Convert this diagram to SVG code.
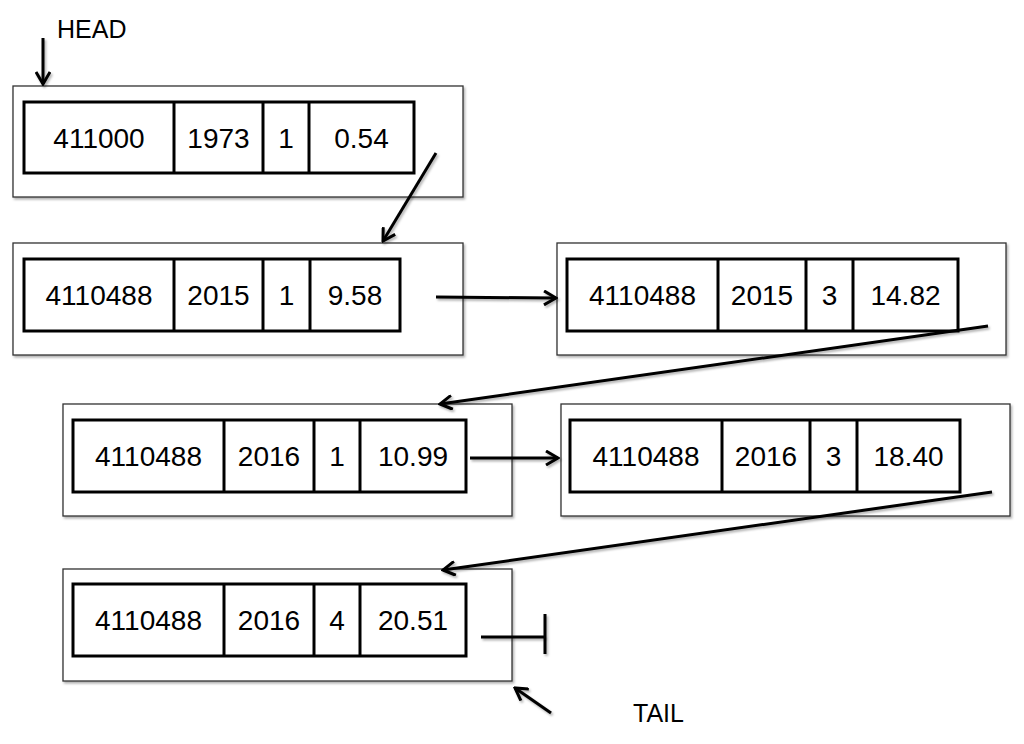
<svg xmlns="http://www.w3.org/2000/svg" width="1024" height="744" viewBox="0 0 1024 744">
<style>
.outer{fill:#fff;stroke:#333;stroke-width:1.3;filter:url(#sh)}
.inner{fill:#fff;stroke:#000;stroke-width:3}
.div{stroke:#000;stroke-width:3}
.t{font-family:"Liberation Sans",Arial,sans-serif;font-size:28px;fill:#000;text-anchor:middle}
.lbl{font-family:"Liberation Sans",Arial,sans-serif;font-size:25px;fill:#000}
.c{stroke:#000;stroke-width:3;fill:none;filter:url(#sh)}
</style>
<defs>
<filter id="sh" filterUnits="userSpaceOnUse" x="0" y="0" width="1024" height="744">
<feDropShadow dx="1.5" dy="2" stdDeviation="1.2" flood-color="#000" flood-opacity="0.3"/>
</filter>
<marker id="ah" viewBox="0 0 16 16" refX="14" refY="8" markerWidth="16" markerHeight="16" markerUnits="userSpaceOnUse" orient="auto">
<path d="M2,1 L14,8 L2,15" fill="none" stroke="#000" stroke-width="3"/>
</marker>
</defs>
<rect width="1024" height="744" fill="#fff"/>

<g id="node1">
<rect class="outer" x="13" y="86" width="450" height="111"/>
<rect class="inner" x="24" y="102" width="390" height="71"/>
<line class="div" x1="174" y1="102" x2="174" y2="173"/>
<line class="div" x1="263" y1="102" x2="263" y2="173"/>
<line class="div" x1="309" y1="102" x2="309" y2="173"/>
<text class="t" x="99" y="148">411000</text>
<text class="t" x="218.5" y="148">1973</text>
<text class="t" x="286" y="148">1</text>
<text class="t" x="361.5" y="148">0.54</text>
</g>

<g id="node2">
<rect class="outer" x="13" y="243" width="450" height="112"/>
<rect class="inner" x="24" y="259" width="376" height="72"/>
<line class="div" x1="174" y1="259" x2="174" y2="331"/>
<line class="div" x1="263" y1="259" x2="263" y2="331"/>
<line class="div" x1="310" y1="259" x2="310" y2="331"/>
<text class="t" x="99" y="305">4110488</text>
<text class="t" x="218.5" y="305">2015</text>
<text class="t" x="286.5" y="305">1</text>
<text class="t" x="355" y="305">9.58</text>
</g>

<g id="node3">
<rect class="outer" x="557" y="243" width="449" height="112"/>
<rect class="inner" x="567" y="259" width="391" height="72"/>
<line class="div" x1="718" y1="259" x2="718" y2="331"/>
<line class="div" x1="806" y1="259" x2="806" y2="331"/>
<line class="div" x1="853" y1="259" x2="853" y2="331"/>
<text class="t" x="642.5" y="305">4110488</text>
<text class="t" x="762" y="305">2015</text>
<text class="t" x="829.5" y="305">3</text>
<text class="t" x="905.5" y="305">14.82</text>
</g>

<g id="node4">
<rect class="outer" x="63" y="404" width="449" height="112"/>
<rect class="inner" x="73" y="420" width="393" height="72"/>
<line class="div" x1="224" y1="420" x2="224" y2="492"/>
<line class="div" x1="314" y1="420" x2="314" y2="492"/>
<line class="div" x1="360" y1="420" x2="360" y2="492"/>
<text class="t" x="148.5" y="466">4110488</text>
<text class="t" x="269" y="466">2016</text>
<text class="t" x="337" y="466">1</text>
<text class="t" x="413" y="466">10.99</text>
</g>

<g id="node5">
<rect class="outer" x="561" y="404" width="449" height="112"/>
<rect class="inner" x="570" y="420" width="390" height="72"/>
<line class="div" x1="722" y1="420" x2="722" y2="492"/>
<line class="div" x1="810" y1="420" x2="810" y2="492"/>
<line class="div" x1="857" y1="420" x2="857" y2="492"/>
<text class="t" x="646" y="466">4110488</text>
<text class="t" x="766" y="466">2016</text>
<text class="t" x="833.5" y="466">3</text>
<text class="t" x="908.5" y="466">18.40</text>
</g>

<g id="node6">
<rect class="outer" x="63" y="569" width="449" height="112"/>
<rect class="inner" x="73" y="584" width="393" height="72"/>
<line class="div" x1="224" y1="584" x2="224" y2="656"/>
<line class="div" x1="314" y1="584" x2="314" y2="656"/>
<line class="div" x1="360" y1="584" x2="360" y2="656"/>
<text class="t" x="148.5" y="630">4110488</text>
<text class="t" x="269" y="630">2016</text>
<text class="t" x="337" y="630">4</text>
<text class="t" x="413" y="630">20.51</text>
</g>

<g id="labels">
<text class="lbl" x="57" y="38">HEAD</text>
<text class="lbl" x="633" y="722">TAIL</text>
</g>

<g id="connectors">
<line class="c" x1="43" y1="38" x2="43" y2="84" marker-end="url(#ah)"/>
<line class="c" x1="436" y1="153" x2="383" y2="241" marker-end="url(#ah)"/>
<line class="c" x1="436" y1="297" x2="556" y2="298" marker-end="url(#ah)"/>
<line class="c" x1="988" y1="326" x2="440" y2="404" marker-end="url(#ah)"/>
<line class="c" x1="470" y1="458" x2="558" y2="458" marker-end="url(#ah)"/>
<line class="c" x1="992" y1="492" x2="443" y2="570" marker-end="url(#ah)"/>
<line class="c" x1="481" y1="637" x2="545" y2="637"/>
<line class="c" x1="545" y1="614" x2="545" y2="654"/>
<line class="c" x1="551" y1="713" x2="515" y2="688" marker-end="url(#ah)"/>
</g>
</svg>
